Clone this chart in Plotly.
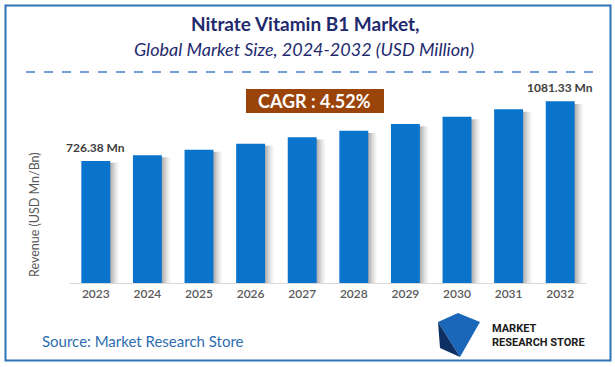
import plotly.graph_objects as go

years = ["2023", "2024", "2025", "2026", "2027", "2028", "2029", "2030", "2031", "2032"]
revenue = [726.38, 760.0, 793.0, 829.0, 867.0, 906.0, 947.0, 990.0, 1035.0, 1081.33]
label_years = ["2023", "2032"]
label_texts = ["726.38 Mn", "1081.33 Mn"]
cagr_text = "CAGR : 4.52%"

BAR_W = 0.56
FONT = "Lato, Open Sans, sans-serif"
L, T, PW, PH = 70, 90, 516, 193


def px(x):
    return (x - L) / PW


def py(y):
    return (T + PH - y) / PH


fig = go.Figure()

# soft shadow to the right of each bar
for dx, a in zip([0.02, 0.05, 0.08, 0.11, 0.14, 0.17], [0.13, 0.11, 0.09, 0.07, 0.05, 0.04]):
    fig.add_trace(go.Bar(
        x=years, y=[v * 0.985 for v in revenue], width=BAR_W, offset=-BAR_W / 2 + dx,
        marker=dict(color="rgba(60,60,60,%.2f)" % a, line=dict(width=0)),
        hoverinfo="skip", showlegend=False))

fig.add_trace(go.Bar(
    x=years, y=revenue, width=BAR_W, offset=-BAR_W / 2,
    marker=dict(color="#0a74cc", line=dict(width=0)),
    showlegend=False))

for yr, t in zip(label_years, label_texts):
    i = years.index(yr)
    fig.add_annotation(x=i, y=revenue[i], xref="x", yref="y", text="<b>" + t + "</b>",
                       showarrow=False, yanchor="bottom", xanchor="center", yshift=4,
                       font=dict(family=FONT, size=12, color="#404040"))

fig.update_layout(
    width=615, height=367,
    margin=dict(l=L, r=615 - L - PW, t=T, b=367 - T - PH),
    paper_bgcolor="white", plot_bgcolor="white",
    barmode="overlay",
    font=dict(family=FONT),
    xaxis=dict(type="category", showgrid=False, showline=True, linecolor="#d9d9d9", linewidth=1,
               ticks="", tickfont=dict(size=12, color="#595959", family="Lato Semibold, Lato, sans-serif"),
               range=[-0.5, 9.5]),
    yaxis=dict(range=[0, 1149], showgrid=False, showticklabels=False, zeroline=False,
               showline=False, ticks=""),
)

# frame
fig.add_shape(type="rect", xref="paper", yref="paper",
              x0=px(5.5), x1=px(610.5), y0=py(360.5), y1=py(5.5),
              line=dict(color="#2e75b6", width=2), fillcolor="rgba(0,0,0,0)", layer="below")
# dashed separator
fig.add_shape(type="line", xref="paper", yref="paper",
              x0=px(26), x1=px(600), y0=py(72), y1=py(72),
              line=dict(color="#4a7fd0", width=1.3, dash="dash"))
# CAGR box
fig.add_shape(type="rect", xref="paper", yref="paper",
              x0=px(246), x1=px(384), y0=py(113), y1=py(89),
              line=dict(width=0), fillcolor="#9b440a")


def txt(x, y, s, size, color, xanchor="center", angle=0, family=FONT, align="center"):
    fig.add_annotation(xref="paper", yref="paper", x=px(x), y=py(y), text=s, showarrow=False,
                       xanchor=xanchor, yanchor="middle", textangle=angle, align=align,
                       font=dict(size=size, color=color, family=family))


txt(314, 101, "<b>" + cagr_text + "</b>", 18, "white")
txt(305, 24, "<b>Nitrate Vitamin B1 Market,</b>", 19, "#1f2a6e")
txt(304, 49, "<i>Global Market Size, 2024-2032 (USD Million)</i>", 18, "#1f2a6e")
txt(34, 215, "Revenue (USD Mn/Bn)", 12.5, "#595959", angle=-90)
txt(40, 341, "Source: Market Research Store", 15, "#2e6db0", xanchor="left")

# logo
fig.add_shape(type="path", xref="paper", yref="paper",
              path="M {},{} L {},{} L {},{} L {},{} Z".format(
                  px(438), py(322), px(458), py(313), px(480), py(322), px(460), py(357)),
              line=dict(width=0), fillcolor="#1a66b8")
fig.add_shape(type="path", xref="paper", yref="paper",
              path="M {},{} L {},{} L {},{} Z".format(
                  px(438), py(322), px(460), py(357), px(440), py(348)),
              line=dict(width=0), fillcolor="#0d2f63")
txt(490, 335, "<b>MARKET<br>RESEARCH STORE</b>", 11, "#1a1a1a", xanchor="left",
    family="Roboto, sans-serif", align="left")

fig.write_html("out.html", config={"displayModeBar": False},
               post_script="document.body.style.margin='0';document.body.style.overflow='hidden';")
